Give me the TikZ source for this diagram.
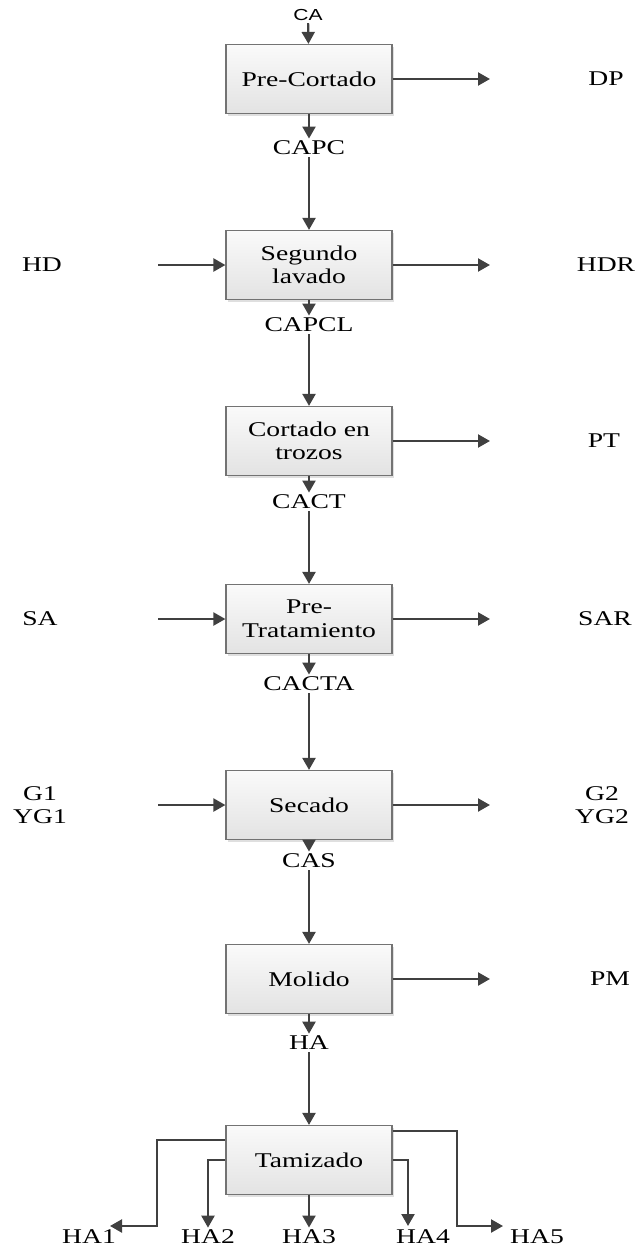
\documentclass[tikz,border=0pt]{standalone}
\usepackage{fontspec}
\setmainfont{Liberation Serif}
\newfontfamily\sanslbl{Liberation Sans}
\usepackage{graphicx}
\usetikzlibrary{arrows.meta, shadows}

\newcommand{\lbl}[1]{\scalebox{1}[0.76]{#1}}

\tikzset{
    proc/.style={draw=black!55, line width=0.6pt, top color=black!2, bottom color=black!11,
        minimum width=83pt, minimum height=34.5pt, inner sep=0pt, align=center,
        drop shadow={shadow xshift=1.2pt, shadow yshift=-1.2pt, opacity=0.25},
        font=\fontsize{13.8pt}{11.8pt}\selectfont},
    lab/.style={inner sep=1pt, align=center, font=\fontsize{13.8pt}{11.8pt}\selectfont},
    flow/.style={draw=black!75, line width=1.1pt, -{Triangle[length=6pt,width=6.5pt]}},
}

\begin{document}
\begin{tikzpicture}[x=0.5pt, y=-0.5pt]
    \useasboundingbox (0,0) rectangle (638,1247);
%____________________________________________________________________________________________________
    \node[lab, font=\sanslbl\fontsize{10.5pt}{12pt}\selectfont] (ca) at (308,15) {\lbl{CA}};
    \node[proc] (pc) at (309,79) {\lbl{Pre-Cortado}};
    \node[lab] (dp) at (606,79) {\lbl{DP}};
    \coordinate (dpin) at (490,79);
    \draw[flow] (ca) -- (pc);
    \draw[flow] (pc) -- (dpin);

    \node[lab] (capc) at (309,148) {\lbl{CAPC}};
    \draw[flow] (pc) -- (capc);
%____________________________________________________________________________________________________
    \node[proc] (sl) at (309,265) {\lbl{Segundo}\\\lbl{lavado}};
    \node[lab] (hd) at (42,265) {\lbl{HD}};
    \node[lab] (hdr) at (606,265) {\lbl{HDR}};
    \coordinate (hdout) at (158,265);
    \coordinate (hdrin) at (490,265);
    \draw[flow] (capc) -- (sl);
    \draw[flow] (hdout) -- (sl);
    \draw[flow] (sl) -- (hdrin);

    \node[lab] (capcl) at (309,325) {\lbl{CAPCL}};
    \draw[flow] (sl) -- (capcl);
%____________________________________________________________________________________________________
    \node[proc] (ct) at (309,441) {\lbl{Cortado en}\\\lbl{trozos}};
    \node[lab] (ptl) at (604,441) {\lbl{PT}};
    \coordinate (ptin) at (490,441);
    \draw[flow] (capcl) -- (ct);
    \draw[flow] (ct) -- (ptin);

    \node[lab] (cact) at (309,502) {\lbl{CACT}};
    \draw[flow] (ct) -- (cact);
%____________________________________________________________________________________________________
    \node[proc] (pt) at (309,619) {\lbl{Pre-}\\\lbl{Tratamiento}};
    \node[lab] (sa) at (40,619) {\lbl{SA}};
    \node[lab] (sar) at (605,619) {\lbl{SAR}};
    \coordinate (saout) at (158,619);
    \coordinate (sarin) at (490,619);
    \draw[flow] (cact) -- (pt);
    \draw[flow] (saout) -- (pt);
    \draw[flow] (pt) -- (sarin);

    \node[lab] (cacta) at (309,684) {\lbl{CACTA}};
    \draw[flow] (pt) -- (cacta);
%____________________________________________________________________________________________________
    \node[proc] (sc) at (309,805) {\lbl{Secado}};
    \node[lab] (g1) at (40,805) {\lbl{G1}\\\lbl{YG1}};
    \node[lab] (g2) at (602,805) {\lbl{G2}\\\lbl{YG2}};
    \coordinate (g1out) at (158,805);
    \coordinate (g2in) at (490,805);
    \draw[flow] (cacta) -- (sc);
    \draw[flow] (g1out) -- (sc);
    \draw[flow] (sc) -- (g2in);

    \node[lab] (cas) at (309,861) {\lbl{CAS}};
    \draw[flow] (sc) -- (cas);
%____________________________________________________________________________________________________
    \node[proc] (ml) at (309,979) {\lbl{Molido}};
    \node[lab] (pm) at (610,979) {\lbl{PM}};
    \coordinate (pmin) at (490,979);
    \draw[flow] (cas) -- (ml);
    \draw[flow] (ml) -- (pmin);

    \node[lab] (ha) at (309,1043) {\lbl{HA}};
    \draw[flow] (ml) -- (ha);
%____________________________________________________________________________________________________
    \node[proc] (tz) at (309,1160) {\lbl{Tamizado}};
    \draw[flow] (ha) -- (tz);

    \node[lab] (ha1) at (89,1237) {\lbl{HA1}};
    \node[lab] (ha2) at (208,1237) {\lbl{HA2}};
    \node[lab] (ha3) at (309,1237) {\lbl{HA3}};
    \node[lab] (ha4) at (423,1237) {\lbl{HA4}};
    \node[lab] (ha5) at (537,1237) {\lbl{HA5}};

    \coordinate (c1) at (157,1226);
    \coordinate (c5) at (457,1226);
    \coordinate (ha1end) at (110,1226);
    \coordinate (ha4end) at (408,1226);
    \coordinate (ha5end) at (503,1226);

    \draw[flow] ([yshift=10pt]tz.west) -| (c1) -- (ha1end);
    \draw[flow] (tz.west) -| (ha2);
    \draw[flow] (tz) -- (ha3);
    \draw[flow] (tz.east) -| (ha4end);
    \draw[flow] ([yshift=14.5pt]tz.east) -| (c5) -- (ha5end);
\end{tikzpicture}
\end{document}
